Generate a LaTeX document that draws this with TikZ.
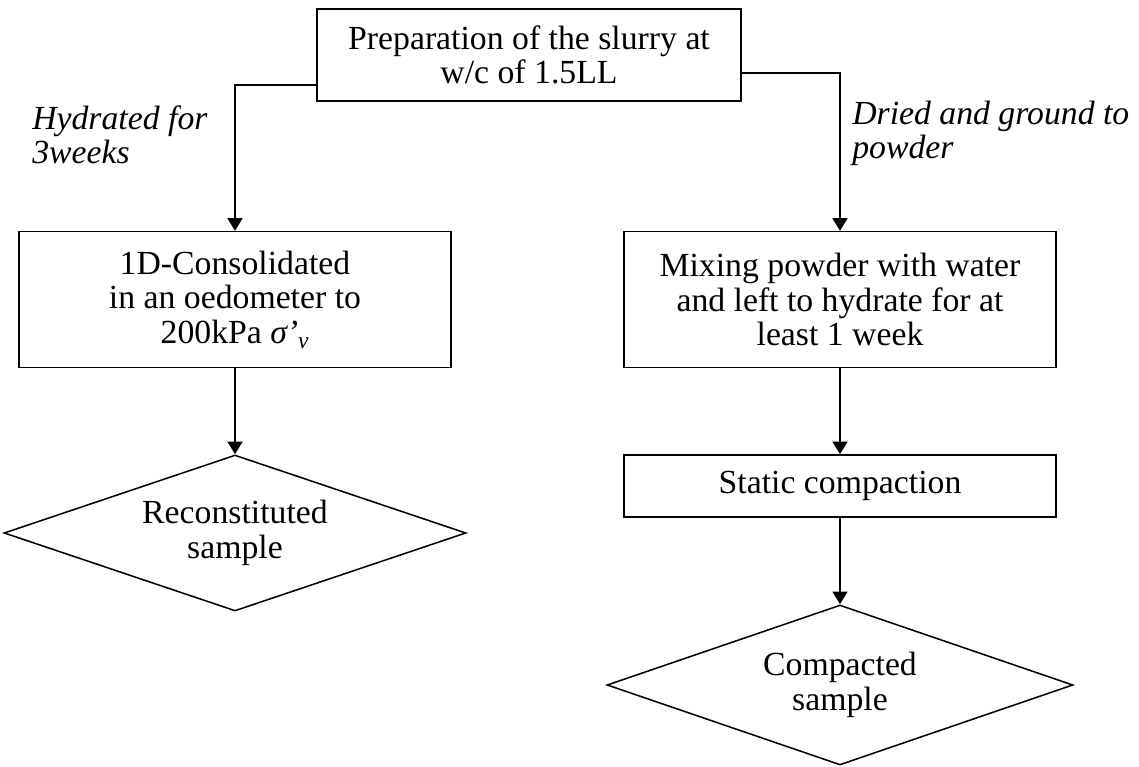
\documentclass[tikz,border=0pt]{standalone}
\usepackage{fontspec}
\setmainfont{Liberation Serif}
\usetikzlibrary{shapes.geometric,arrows.meta}

\begin{document}
\begin{tikzpicture}[
          every node/.style = {font=\fontsize{24}{24.5}\selectfont},
          block/.style = {draw, rectangle, line width=1.1pt, minimum width=10.8cm, minimum height=3.4cm, align=center, inner sep=0pt},
          decision/.style = {draw, diamond, line width=1.1pt, aspect=3, minimum width=11.6cm, minimum height=3.95cm, align=center, inner sep=0pt},
          note/.style = {anchor=west, align=left, inner sep=0pt, font=\fontsize{24}{24.5}\selectfont\itshape},
          flow/.style = {->, line width=1.8pt},
          >={Triangle[width=10.5pt,length=9pt]}
        ]
        \useasboundingbox (0,0) rectangle (28.475,-19.175);

        \node[block, minimum width=10.6cm, minimum height=2.3cm] (slurry) at (13.225,-1.375) {Preparation of the slurry at\\w/c of 1.5LL};
        \node[block] (consol) at (5.875,-7.49) {1D-Consolidated\\in an oedometer to\\200kPa \textit{σ’}\textsubscript{\textit{v}}};
        \node[block] (mixing) at (21,-7.49) {Mixing powder with water\\and left to hydrate for at\\least 1 week};
        \node[block, minimum height=1.55cm] (static) at (21,-12.15) {Static compaction};
        \node[decision, minimum width=11.55cm, minimum height=3.9cm] (recon) at (5.875,-13.325) {Reconstituted\\sample};
        \node[decision, minimum width=11.65cm, minimum height=4cm] (compact) at (21,-17.125) {Compacted\\sample};

        \draw[flow] ([yshift=-0.75cm]slurry.west) -| (consol.north);
        \draw[flow] ([yshift=-0.45cm]slurry.east) -| (mixing.north);
        \draw[flow] (consol) -- (recon);
        \draw[flow] (mixing) -- (static);
        \draw[flow] (static) -- (compact);

        \node[note] (hydrated) at (0.8,-3.375) {Hydrated for\\3weeks};
        \node[note] (dried) at (21.3,-3.33) {Dried and ground to\\powder};
      \end{tikzpicture}
\end{document}
